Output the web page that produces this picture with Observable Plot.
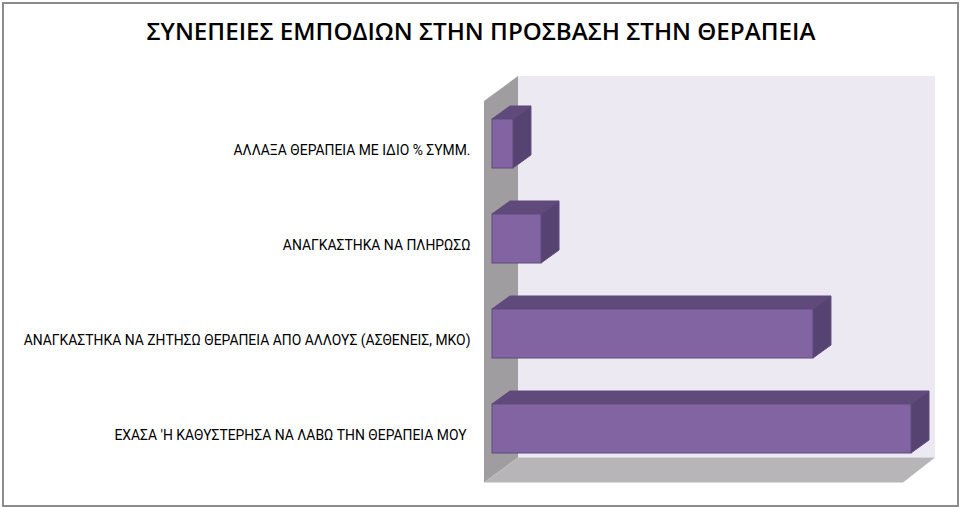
<!DOCTYPE html>
<html lang="el">
<head>
<meta charset="utf-8">
<script src="https://cdn.jsdelivr.net/npm/d3@7"></script>
<script src="https://cdn.jsdelivr.net/npm/@observablehq/plot@0.6"></script>
<style>
html,body{margin:0;padding:0;background:#fff;width:960px;height:507px;overflow:hidden}
#frame{position:absolute;left:2px;top:2px;width:953px;height:501px;border:2px solid #8c8c8c;box-sizing:content-box;pointer-events:none}
#title{position:absolute;left:0;top:0;width:962px;height:60px;text-align:center;font:600 24.2px/62px "Open Sans",sans-serif;color:#000;white-space:nowrap}
#chart{position:absolute;left:0;top:60px}
svg{display:block;overflow:visible}
</style>
</head>
<body>
<div id="title"></div>
<div id="chart"></div>
<div id="frame"></div>
<script>
const chartTitle = "ΣΥΝΕΠΕΙΕΣ ΕΜΠΟΔΙΩΝ ΣΤΗΝ ΠΡΟΣΒΑΣΗ ΣΤΗΝ ΘΕΡΑΠΕΙΑ";
const categories = [
  "ΑΛΛΑΞΑ ΘΕΡΑΠΕΙΑ ΜΕ ΙΔΙΟ % ΣΥΜΜ.",
  "ΑΝΑΓΚΑΣΤΗΚΑ ΝΑ ΠΛΗΡΩΣΩ",
  "ΑΝΑΓΚΑΣΤΗΚΑ ΝΑ ΖΗΤΗΣΩ ΘΕΡΑΠΕΙΑ ΑΠΟ ΑΛΛΟΥΣ (ΑΣΘΕΝΕΙΣ, ΜΚΟ)",
  "ΕΧΑΣΑ 'Η ΚΑΘΥΣΤΕΡΗΣΑ ΝΑ ΛΑΒΩ ΤΗΝ ΘΕΡΑΠΕΙΑ ΜΟΥ"
];
const values = [5, 11.7, 76.6, 100];
const rows = categories.map((category, i) => ({category, value: values[i]}));

const depth = {dx: 18, dy: -13};
const wallDepth = {dx: 34, dy: -25};
const colors = {front: "#8264a3", top: "#5f4a7b", side: "#574372", edge: "#5f4a7b",
  back: "#ece9f2", wall: "#9f9da0", floor: "#b7b5b8"};

function polygon(points, fill, stroke) {
  const p = document.createElementNS("http://www.w3.org/2000/svg", "polygon");
  p.setAttribute("points", points.map(d => d.join(",")).join(" "));
  p.setAttribute("fill", fill);
  if (stroke) { p.setAttribute("stroke", stroke); p.setAttribute("stroke-width", 1); }
  return p;
}
function group(children) {
  const g = document.createElementNS("http://www.w3.org/2000/svg", "g");
  children.forEach(c => g.appendChild(c));
  return g;
}
// the box the bars stand in: positioned from the chart's own x and y scales
function walls(index, {x, y}) {
  const bw = y.bandwidth();
  const x0 = x(0) - 8, x1 = x(100) - 8;
  const bottom = y(categories[3]) + bw + 29.5;
  const top = y(categories[0]) - 18;
  const d = wallDepth;
  return group([
    polygon([[x0 + d.dx, top + d.dy], [x1 + d.dx - 2, top + d.dy], [x1 + d.dx - 2, bottom + d.dy], [x0 + d.dx, bottom + d.dy]], colors.back),
    polygon([[x0, top], [x0 + d.dx, top + d.dy], [x0 + d.dx, bottom + d.dy], [x0, bottom]], colors.wall),
    polygon([[x0, bottom], [x0 + d.dx, bottom + d.dy], [x1 + d.dx - 2, bottom + d.dy], [x1, bottom]], colors.floor)
  ]);
}
// top and side faces of each bar, from the same scales as the front face
function faces(index, {x, y}) {
  const d = depth, bw = y.bandwidth();
  return group(rows.flatMap(r => {
    const x0 = x(0), x1 = x(r.value), y0 = y(r.category), y1 = y0 + bw;
    return [
      polygon([[x0, y0], [x0 + d.dx, y0 + d.dy], [x1 + d.dx, y0 + d.dy], [x1, y0]], colors.top, colors.edge),
      polygon([[x1, y0], [x1 + d.dx, y0 + d.dy], [x1 + d.dx, y1 + d.dy], [x1, y1]], colors.side, colors.edge)
    ];
  }));
}

document.getElementById("title").textContent = chartTitle;
const plot = Plot.plot({
  width: 960,
  height: 447,
  margin: 0,
  style: {fontFamily: "Roboto, sans-serif", fontSize: "13.9px", color: "#000", background: "transparent"},
  x: {domain: [0, 100], range: [492, 911], axis: null},
  y: {domain: categories, range: [11, 441], padding: 0.483, label: null, axis: null},
  marks: [
    walls,
    faces,
    Plot.barX(rows, {x: "value", y: "category", fill: colors.front, stroke: colors.edge, strokeWidth: 1}),
    Plot.axisY(categories.slice(0, 3), {anchor: "left", frameAnchor: "left", tickSize: 0, textAnchor: "end", dx: 479, dy: 6.5, label: null, fontSize: 13.9, fill: "#000", lineWidth: Infinity, textOverflow: null}),
    Plot.axisY(categories.slice(3), {anchor: "left", frameAnchor: "left", tickSize: 0, textAnchor: "end", dx: 475, dy: 6.5, label: null, fontSize: 13.9, fill: "#000", lineWidth: Infinity, textOverflow: null})
  ]
});
document.getElementById("chart").appendChild(plot);
</script>
</body>
</html>
